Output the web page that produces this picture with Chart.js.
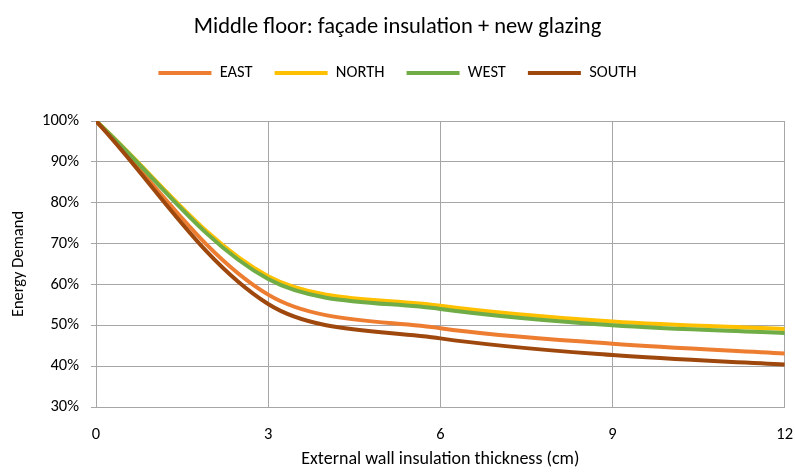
<!DOCTYPE html>
<html>
<head>
<meta charset="utf-8">
<script src="https://cdn.jsdelivr.net/npm/chart.js@4"></script>
<style>
  html, body { margin: 0; padding: 0; background: #fff; }
  #wrap { width: 795px; height: 472px; }
</style>
</head>
<body>
<div id="wrap"><canvas id="energyChart" width="795" height="472"></canvas></div>
<script>
/////////////////////////////// DATA ///////////////////////////////
const thickness = [0, 3, 6, 9, 12];
const east = [100, 57.5, 49.3, 45.5, 43.1];
const north = [100, 62.0, 54.8, 50.9, 49.1];
const west = [100, 61.3, 54.0, 50.0, 48.1];
const south = [100, 55.2, 46.8, 42.7, 40.4];

/////////////////////////////// COLORS ///////////////////////////////
c_east = "#ED7D31";
c_north = "#FFC000";
c_west = "#70AD47";
c_south = "#9E480E";
c_grid = "#a6a6a6";

const fontFamily = "Carlito, Lato, sans-serif";

function toPoints(values) {
    return thickness.map((x, i) => ({ x: x, y: values[i] }));
}

function makeSeries(label, values, color) {
    return {
        label: label,
        data: toPoints(values),
        borderColor: color,
        backgroundColor: color,
        borderWidth: 4,
        borderCapStyle: "round",
        pointRadius: 0,
        tension: 0.33,
        fill: false,
    };
}

// later series drawn on top (like Excel), legend reversed back
const datasets = [
    makeSeries("SOUTH", south, c_south),
    makeSeries("WEST", west, c_west),
    makeSeries("NORTH", north, c_north),
    makeSeries("EAST", east, c_east),
];

/////////////////////////////// CREATE CHART ///////////////////////////////
const ctx = document.getElementById("energyChart").getContext("2d");
const energyChart = new Chart(ctx, {
    type: "line",
    data: { datasets: datasets },
    options: {
        responsive: false,
        animation: false,
        layout: { padding: 0 },
        plugins: {
            title: {
                display: true,
                text: "Middle floor: façade insulation + new glazing",
                color: "#000",
                font: { family: fontFamily, size: 22.5, weight: "normal" },
                padding: { top: 14, bottom: 1.75 },
            },
            // empty block under the legend, keeps the gap above the plot
            subtitle: {
                display: true,
                text: " ",
                weight: 500,
                font: { size: 10 },
                padding: { top: 17.75, bottom: 0 },
            },
            legend: {
                display: true,
                reverse: true,
                labels: {
                    usePointStyle: true,
                    pointStyle: "line",
                    pointStyleWidth: 53,
                    padding: 22,
                    color: "#000",
                    font: { family: fontFamily, size: 16.5 },
                },
            },
            tooltip: { enabled: false },
        },
        scales: {
            x: {
                type: "linear",
                min: 0,
                max: 12,
                afterFit: (scale) => { scale.height = 65; },
                ticks: {
                    stepSize: 3,
                    padding: 2,
                    color: "#000",
                    font: { family: fontFamily, size: 16.5 },
                },
                grid: { color: c_grid, lineWidth: 1, drawTicks: true, tickLength: 16, tickColor: "rgba(0,0,0,0)" },
                border: { color: c_grid, width: 1 },
                title: {
                    display: true,
                    text: "External wall insulation thickness (cm)",
                    color: "#000",
                    font: { family: fontFamily, size: 18 },
                    padding: { top: 0, bottom: 2 },
                },
            },
            y: {
                min: 30,
                max: 100,
                afterFit: (scale) => { scale.width = 96; },
                ticks: {
                    stepSize: 10,
                    padding: 12,
                    color: "#000",
                    font: { family: fontFamily, size: 16.5 },
                    callback: (v) => v + "%",
                },
                grid: { color: c_grid, lineWidth: 1, tickLength: 5 },
                border: { color: c_grid, width: 1 },
                title: {
                    display: true,
                    text: "Energy Demand",
                    color: "#000",
                    font: { family: fontFamily, size: 16.5 },
                    padding: { top: 9, bottom: 0 },
                },
            },
        },
    },
});
</script>
</body>
</html>
